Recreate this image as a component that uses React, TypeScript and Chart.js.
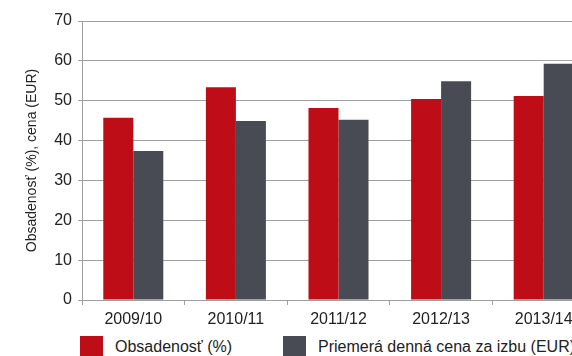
import React, { useEffect, useRef } from "react";
import { Chart, registerables } from "chart.js";

Chart.register(...registerables);

const categories = ["2009/10", "2010/11", "2011/12", "2012/13", "2013/14"];
const occupancy = [45.7, 53.4, 48.2, 50.4, 51.2];
const avgRate = [37.4, 44.9, 45.2, 54.9, 59.3];
const seriesLabels = ["Obsadenosť (%)", "Priemerá denná cena za izbu (EUR)"];
const yTitle = "Obsadenosť (%), cena (EUR)";

const RED = "#BF0D17";
const GRAY = "#484B53";
const GRID = "#A0A0A0";
const TEXT = "#222222";
const FONT = "'Liberation Sans', Arial, Helvetica, sans-serif";

export default function App() {
  const ref = useRef<HTMLCanvasElement | null>(null);

  useEffect(() => {
    if (!ref.current) return;
    const chart = new Chart(ref.current, {
      type: "bar",
      data: {
        labels: categories,
        datasets: [
          { label: seriesLabels[0], data: occupancy, backgroundColor: RED, categoryPercentage: 0.585, barPercentage: 1 },
          { label: seriesLabels[1], data: avgRate, backgroundColor: GRAY, categoryPercentage: 0.585, barPercentage: 1 },
        ],
      },
      options: {
        animation: false,
        responsive: false,
        devicePixelRatio: 1,
        layout: { padding: { left: 24, top: 21, right: 1, bottom: 0 } },
        plugins: { legend: { display: false }, tooltip: { enabled: false } },
        scales: {
          x: {
            grid: { drawOnChartArea: false, drawTicks: true, tickLength: 5, color: GRID, offset: true },
            border: { color: GRID },
            ticks: { color: TEXT, font: { family: FONT, size: 16 }, padding: 5, maxRotation: 0, autoSkip: false },
            afterFit: (s: any) => { s.height = 30; },
          },
          y: {
            min: 0,
            max: 70,
            ticks: { stepSize: 10, color: TEXT, font: { family: FONT, size: 16 }, padding: 6 },
            grid: { color: GRID, tickLength: 4 },
            border: { color: GRID },
            title: { display: true, text: yTitle, color: TEXT, font: { family: FONT, size: 14 }, padding: 0 },
            afterFit: (s: any) => { s.width = 58; },
          },
        },
      },
    });
    return () => chart.destroy();
  }, []);

  const legendText: React.CSSProperties = {
    position: "absolute",
    top: 337,
    fontFamily: FONT,
    fontSize: 16,
    lineHeight: "20px",
    color: TEXT,
    whiteSpace: "nowrap",
  };

  return (
    <div style={{ position: "fixed", left: 0, top: 0, width: 572, height: 356, overflow: "hidden", background: "#fff" }}>
      <canvas ref={ref} width={596} height={330} style={{ position: "absolute", left: 0, top: 0 }} />
      <div style={{ position: "absolute", left: 80, top: 336, width: 23, height: 20, background: RED }} />
      <div style={{ ...legendText, left: 115 }}>{seriesLabels[0]}</div>
      <div style={{ position: "absolute", left: 283, top: 336, width: 23, height: 20, background: GRAY }} />
      <div style={{ ...legendText, left: 318 }}>{seriesLabels[1]}</div>
    </div>
  );
}
